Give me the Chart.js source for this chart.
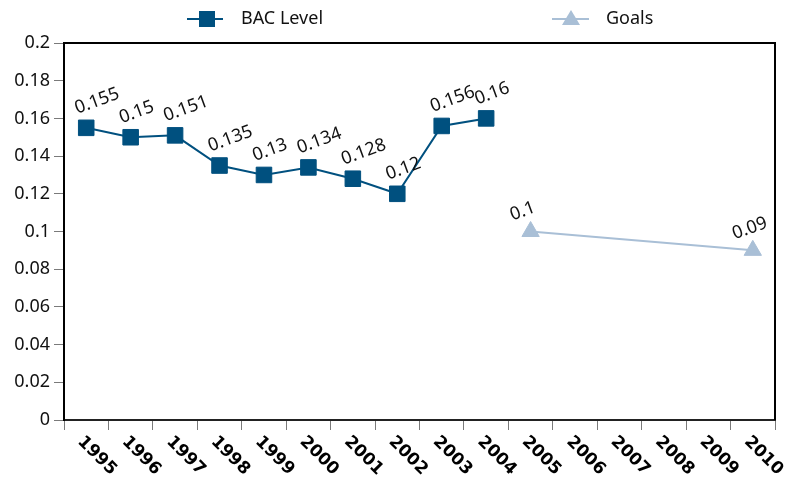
<!DOCTYPE html>
<html>
<head>
<meta charset="utf-8">
<style>
html,body{margin:0;padding:0;background:#fff;}
#wrap{width:789px;height:485px;position:relative;}
</style>
<script src="https://cdn.jsdelivr.net/npm/chart.js@4/dist/chart.umd.min.js"></script>
</head>
<body>
<div id="wrap"><canvas id="c" width="789" height="485"></canvas></div>
<script>
const categories = ['1995','1996','1997','1998','1999','2000','2001','2002','2003','2004','2005','2006','2007','2008','2009','2010'];
const bacLevel = [0.155,0.15,0.151,0.135,0.13,0.134,0.128,0.12,0.156,0.16,null,null,null,null,null,null];
const goals = [null,null,null,null,null,null,null,null,null,null,0.1,null,null,null,null,0.09];
const yTicks = [0,0.02,0.04,0.06,0.08,0.1,0.12,0.14,0.16,0.18,0.2];
const seriesNames = ['BAC Level','Goals'];

const FONT = '"Noto Sans", "Open Sans", sans-serif';
const XFONT = '"DejaVu Sans", Verdana, sans-serif';
const BAC_COLOR = '#00507f';
const GOAL_COLOR = '#a9bfd6';

const customPlugin = {
  id: 'custom',
  afterDraw(chart) {
    const ctx = chart.ctx;
    const ca = chart.chartArea;
    const xs = chart.scales.x;
    // frame (top and right)
    ctx.save();
    ctx.strokeStyle = '#000';
    ctx.lineWidth = 2;
    ctx.beginPath();
    ctx.moveTo(ca.left, ca.top);
    ctx.lineTo(ca.right, ca.top);
    ctx.lineTo(ca.right, ca.bottom);
    ctx.stroke();
    ctx.restore();

    // x labels rotated +45deg
    ctx.save();
    ctx.fillStyle = '#000';
    ctx.font = 'bold 17px ' + XFONT;
    ctx.textAlign = 'left';
    ctx.textBaseline = 'top';
    categories.forEach((c, i) => {
      const x = xs.getPixelForValue(i);
      ctx.save();
      ctx.translate(x, ca.bottom + 13);
      ctx.rotate(Math.PI / 4);
      ctx.fillText(c, 0, 0);
      ctx.restore();
    });
    ctx.restore();

    // data labels
    const offsets = [[-9, -14], [-18, -11]];
    ctx.save();
    ctx.font = '18px ' + FONT;
    ctx.fillStyle = '#111';
    ctx.textAlign = 'left';
    ctx.textBaseline = 'alphabetic';
    chart.data.datasets.forEach((ds, di) => {
      const meta = chart.getDatasetMeta(di);
      meta.data.forEach((pt, i) => {
        const v = ds.data[i];
        if (v === null || v === undefined) return;
        ctx.save();
        ctx.translate(pt.x + offsets[di][0], pt.y + offsets[di][1]);
        ctx.rotate(-20 * Math.PI / 180);
        ctx.fillText(String(v), 0, 0);
        ctx.restore();
      });
    });
    ctx.restore();

    // legend
    ctx.save();
    const ly = 19;
    ctx.lineWidth = 2;
    ctx.strokeStyle = BAC_COLOR;
    ctx.beginPath(); ctx.moveTo(187, ly); ctx.lineTo(223, ly); ctx.stroke();
    ctx.fillStyle = BAC_COLOR;
    ctx.fillRect(199, ly - 8, 16, 16);
    ctx.strokeStyle = GOAL_COLOR;
    ctx.beginPath(); ctx.moveTo(552, ly); ctx.lineTo(589, ly); ctx.stroke();
    ctx.fillStyle = GOAL_COLOR;
    ctx.beginPath();
    ctx.moveTo(571, ly - 9); ctx.lineTo(580, ly + 6); ctx.lineTo(562, ly + 6); ctx.closePath(); ctx.fill();
    ctx.fillStyle = '#111';
    ctx.font = '18px ' + FONT;
    ctx.textAlign = 'left';
    ctx.textBaseline = 'middle';
    ctx.fillText(seriesNames[0], 241, ly);
    ctx.fillText(seriesNames[1], 606, ly);
    ctx.restore();
  }
};

new Chart(document.getElementById('c'), {
  type: 'line',
  data: {
    labels: categories,
    datasets: [
      {
        label: seriesNames[0],
        data: bacLevel,
        borderColor: BAC_COLOR,
        backgroundColor: BAC_COLOR,
        borderWidth: 2,
        pointStyle: 'rect',
        pointRadius: 11,
        pointBorderWidth: 1,
        pointBackgroundColor: BAC_COLOR,
        pointBorderColor: BAC_COLOR,
        tension: 0,
        spanGaps: false
      },
      {
        label: seriesNames[1],
        data: goals,
        borderColor: GOAL_COLOR,
        backgroundColor: GOAL_COLOR,
        borderWidth: 2,
        pointStyle: 'triangle',
        pointRadius: 10,
        pointBorderWidth: 1,
        pointBackgroundColor: GOAL_COLOR,
        pointBorderColor: GOAL_COLOR,
        tension: 0,
        spanGaps: true
      }
    ]
  },
  options: {
    responsive: false,
    animation: false,
    devicePixelRatio: 1,
    layout: { padding: { left: 0, top: 43, right: 14, bottom: 0 } },
    plugins: { legend: { display: false }, tooltip: { enabled: false } },
    scales: {
      x: {
        type: 'category',
        offset: true,
        grid: { offset: true, drawOnChartArea: false, drawTicks: true, tickLength: 10, color: '#7a7a7a', lineWidth: 1 },
        border: { display: true, color: '#222', width: 2 },
        ticks: { display: false, autoSkip: false },
        afterFit(s) { s.height = 65; }
      },
      y: {
        min: 0,
        max: 0.2,
        afterBuildTicks(s) { s.ticks = yTicks.map(v => ({ value: v })); },
        grid: { drawOnChartArea: false, drawTicks: true, tickLength: 10, color: '#7a7a7a', lineWidth: 1 },
        border: { display: true, color: '#000', width: 2 },
        ticks: { color: '#111', font: { family: FONT, size: 18 }, padding: 4, callback: (v) => String(v) },
        afterFit(s) { s.width = 64; }
      }
    }
  },
  plugins: [customPlugin]
});
</script>
</body>
</html>
